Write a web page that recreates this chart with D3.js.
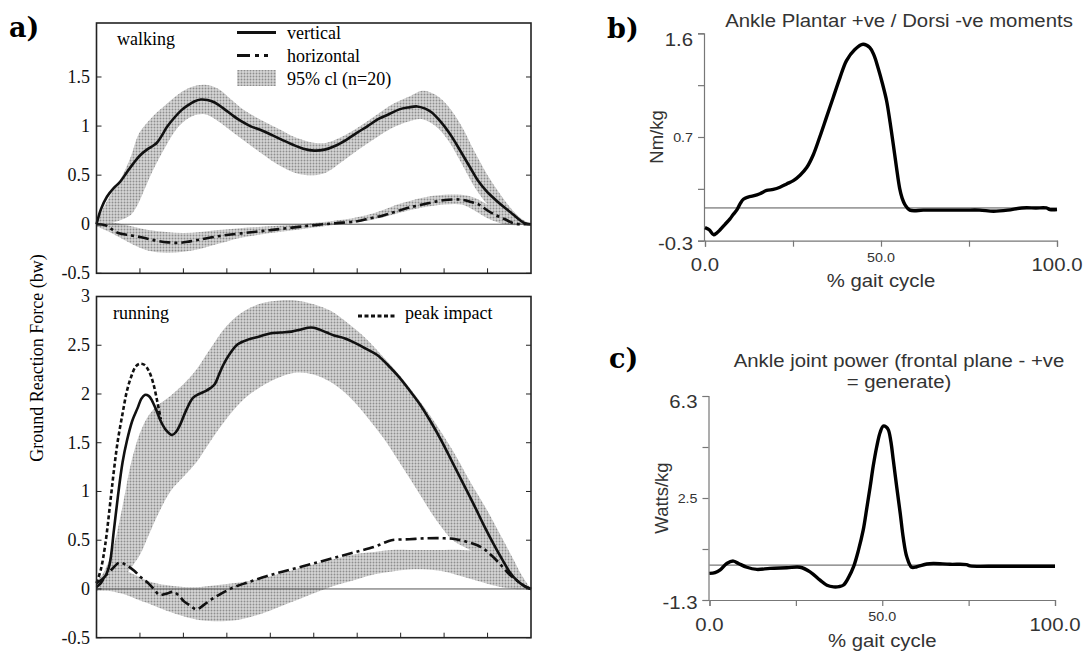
<!DOCTYPE html>
<html><head><meta charset="utf-8">
<script src="https://cdn.jsdelivr.net/npm/d3@7"></script>
<style>body{margin:0;background:#fff}</style>
</head><body>
<svg id="chart" width="1086" height="653"></svg>
<script>
// ---------------- DATA ----------------
// Panel a) walking: [% stance, force (bw)]
const walkVertical = [[0,0],[1,0.15],[2.4,0.28],[4,0.37],[5.4,0.43],[7,0.53],[8.5,0.62],[10,0.7],[11.6,0.76],[13,0.8],[13.9,0.83],[15,0.9],[16.2,0.99],[18,1.09],[19.5,1.16],[21,1.21],[22.5,1.25],[24,1.27],[25.5,1.265],[27.2,1.24],[29.2,1.18],[31.3,1.11],[33.3,1.05],[35.4,1.0],[37.8,0.96],[40.3,0.91],[42.7,0.86],[45.2,0.81],[47.6,0.77],[50.1,0.75],[52.5,0.76],[55,0.8],[57.5,0.86],[59.9,0.93],[62.4,1.0],[64.8,1.07],[67.3,1.12],[69.7,1.17],[71.8,1.19],[73.8,1.2],[75.5,1.18],[77.1,1.14],[79.1,1.05],[81.2,0.93],[82.9,0.81],[84.5,0.69],[86.1,0.57],[87.7,0.45],[89.7,0.34],[91.8,0.25],[93.9,0.17],[95.9,0.1],[97.5,0.04],[98.6,0.01],[100,0]];
const walkHorizontal = [[0,0],[2,-0.01],[3.5,-0.05],[5,-0.09],[7.5,-0.11],[10,-0.13],[12,-0.15],[14,-0.17],[16.5,-0.185],[19,-0.19],[21.5,-0.175],[24,-0.155],[27,-0.13],[30,-0.11],[35,-0.085],[40,-0.06],[45,-0.035],[50,-0.01],[55,0.01],[60,0.03],[63,0.06],[66,0.09],[69,0.13],[72,0.17],[75,0.2],[78,0.23],[81,0.25],[84,0.25],[86,0.23],[88,0.2],[90,0.14],[92,0.09],[94,0.05],[96,0.01],[98,0],[100,0]];
// 95% cl bands: [% stance, lower, upper]
const walkVerticalBand = [[0,0,0.02],[2,0,0.2],[4,0.02,0.36],[6,0.05,0.5],[8,0.1,0.7],[9.5,0.2,0.9],[11,0.35,1.0],[13,0.55,1.1],[16,0.8,1.22],[19,1.0,1.33],[22,1.1,1.4],[25,1.12,1.42],[28,1.05,1.38],[31,0.95,1.27],[34,0.85,1.16],[38,0.72,1.06],[42,0.6,0.97],[46,0.52,0.88],[50,0.5,0.83],[53,0.53,0.83],[56,0.62,0.88],[60,0.75,0.98],[64,0.87,1.1],[68,0.98,1.22],[72,1.05,1.3],[75,1.07,1.36],[78,1.0,1.32],[81,0.85,1.2],[84,0.62,1.0],[87,0.38,0.74],[90,0.2,0.5],[93,0.08,0.3],[96,0.02,0.13],[98,0,0.05],[100,0,0]];
const walkHorizontalBand = [[0,-0.02,0.02],[3,-0.08,0.02],[6,-0.15,0],[9,-0.22,-0.03],[12,-0.27,-0.06],[16,-0.29,-0.08],[20,-0.28,-0.09],[24,-0.25,-0.08],[28,-0.2,-0.06],[33,-0.14,-0.04],[40,-0.09,-0.02],[47,-0.05,0],[54,-0.01,0.03],[60,0.02,0.07],[65,0.06,0.13],[70,0.12,0.21],[75,0.17,0.27],[80,0.2,0.3],[84,0.2,0.3],[87,0.14,0.27],[90,0.06,0.2],[93,0.01,0.12],[96,-0.01,0.05],[100,0,0]];

// Panel a) running
const runVertical = [[0,0.06],[1,0.09],[2,0.13],[3,0.25],[4,0.6],[4.9,0.94],[6,1.3],[7,1.52],[8.2,1.72],[9.5,1.86],[10.3,1.95],[11.1,1.99],[12,1.98],[12.8,1.93],[13.8,1.83],[14.8,1.72],[16,1.63],[17.4,1.58],[18.3,1.61],[19.3,1.69],[20.7,1.84],[22.2,1.96],[23.6,2.0],[25.1,2.03],[26.2,2.06],[27.2,2.1],[28.2,2.2],[29.2,2.3],[30.8,2.42],[32.5,2.51],[35,2.56],[37.5,2.59],[39.9,2.62],[42.4,2.63],[44.9,2.64],[46.8,2.66],[48.6,2.68],[50,2.68],[51.4,2.66],[53,2.63],[54.7,2.6],[57.2,2.57],[59.7,2.52],[62.2,2.46],[64.6,2.4],[67,2.3],[69.5,2.18],[72,2.04],[74.5,1.89],[77,1.71],[79.4,1.52],[81.9,1.3],[84.4,1.08],[86.9,0.86],[89.3,0.64],[91.4,0.46],[93.4,0.3],[95,0.18],[96.7,0.09],[98.5,0.03],[100,0]];
const runPeakImpact = [[0,0.06],[1,0.2],[2,0.45],[3.3,0.94],[4.1,1.25],[4.9,1.52],[6,1.8],[7,2.03],[8,2.18],[9,2.28],[9.9,2.31],[11,2.3],[12,2.24],[13,2.12],[14,1.92],[14.8,1.74]];
const runHorizontal = [[0,0.02],[1,0.06],[2,0.13],[3.5,0.2],[5.3,0.27],[7,0.24],[8.6,0.19],[10.2,0.12],[11.9,0.06],[13.2,0],[14.4,-0.06],[16,-0.05],[17.7,-0.03],[19,-0.07],[20.2,-0.13],[21.6,-0.17],[23,-0.21],[24.8,-0.16],[26.7,-0.1],[29,-0.04],[31.7,0.02],[35,0.07],[39.1,0.13],[43,0.18],[47.3,0.23],[51.5,0.28],[55.6,0.33],[59.7,0.38],[63.8,0.43],[66,0.47],[67.9,0.5],[72,0.51],[76.1,0.52],[80,0.52],[82.7,0.51],[85.5,0.48],[88.5,0.43],[91,0.34],[93.4,0.23],[95,0.15],[96.7,0.09],[98.5,0.03],[100,0]];
const runVerticalBand = [[0,0,0.06],[2,0,0.2],[4,0.02,0.45],[6,0.1,0.85],[8,0.22,1.3],[10,0.35,1.6],[12,0.55,1.78],[14,0.75,1.88],[17,1.0,1.98],[20,1.15,2.1],[23,1.3,2.25],[26,1.5,2.45],[30,1.75,2.7],[34,1.95,2.85],[38,2.08,2.93],[42,2.17,2.96],[46,2.22,2.96],[50,2.2,2.92],[54,2.12,2.85],[58,1.98,2.72],[62,1.78,2.57],[66,1.55,2.38],[70,1.28,2.18],[74,1.0,1.95],[78,0.72,1.7],[82,0.5,1.42],[86,0.4,1.1],[90,0.3,0.8],[93,0.2,0.55],[96,0.08,0.3],[98,0.02,0.13],[100,0,0]];
const runHorizontalBand = [[0,-0.02,0.08],[3,-0.02,0.2],[6,-0.05,0.2],[9,-0.1,0.14],[12,-0.15,0.08],[16,-0.22,0.04],[20,-0.28,0.02],[24,-0.32,0.02],[28,-0.33,0.04],[32,-0.32,0.06],[36,-0.28,0.09],[40,-0.22,0.13],[44,-0.15,0.18],[48,-0.08,0.23],[52,-0.01,0.28],[56,0.05,0.32],[60,0.1,0.36],[64,0.15,0.38],[68,0.18,0.4],[72,0.2,0.4],[76,0.2,0.4],[80,0.18,0.4],[84,0.13,0.4],[88,0.08,0.38],[92,0.03,0.3],[96,0,0.15],[100,0,0]];

const walkTicks = [-0.5, 0, 0.5, 1, 1.5];
const walkTickLabels = ["-0.5", "0", "0.5", "1", "1.5"];
const runTicks = [-0.5, 0, 0.5, 1, 1.5, 2, 2.5, 3];
const runTickLabels = ["-0.5", "0", "0.5", "1", "1.5", "2", "2.5", "3"];
const stanceTicks = [10, 20, 30, 40, 50, 60, 70, 80, 90];
const legendLabels = ["vertical", "horizontal", "95% cl (n=20)"];

// Panel b) ankle moment: [% gait cycle, Nm/kg]
const ankleMoment = [[0,-0.18],[1.2,-0.2],[2.4,-0.245],[3.3,-0.23],[4.3,-0.2],[5.7,-0.15],[7.1,-0.1],[8,-0.06],[9,-0.02],[10,0.04],[10.9,0.08],[12.3,0.1],[13.7,0.11],[15.6,0.13],[17.5,0.16],[19.4,0.17],[21.3,0.19],[23.2,0.22],[25.1,0.25],[27,0.3],[28.9,0.37],[30.8,0.49],[32.6,0.65],[34.5,0.83],[36.4,1.01],[38.3,1.19],[40.2,1.35],[42.5,1.45],[44.9,1.5],[46.8,1.47],[48,1.4],[49.2,1.28],[50.4,1.14],[51.6,0.98],[52.6,0.78],[53.5,0.58],[54.4,0.37],[55.3,0.18],[56,0.09],[56.8,0.03],[58.2,-0.02],[62,-0.02],[66,-0.02],[70,-0.02],[74,-0.02],[78,-0.02],[82,-0.03],[86,-0.02],[90,0],[94,0],[97,0],[98,-0.015],[100,-0.015]];
const momentTicks = [-0.3, 0.175, 0.65, 1.125, 1.6];
const momentTickLabels = ["-0.3", "", "0.7", "", "1.6"];

// Panel c) ankle power: [% gait cycle, Watts/kg]
const anklePower = [[0,-0.31],[1.6,-0.28],[3.1,-0.18],[5,0.06],[6.9,0.15],[8.4,0.06],[10.8,-0.08],[13.7,-0.16],[17.5,-0.12],[22.4,-0.1],[26.2,-0.08],[29.1,-0.25],[32,-0.56],[34,-0.75],[35.9,-0.81],[37.5,-0.8],[38.8,-0.74],[40.3,-0.45],[41.7,-0.06],[43.1,0.55],[44.5,1.31],[45.5,2.1],[46.5,2.92],[47.4,3.7],[48.4,4.41],[49.4,4.95],[50.3,5.18],[51.1,5.15],[51.8,5.03],[52.5,4.6],[53.2,3.91],[54.2,2.9],[55.2,1.93],[56.1,1.0],[57.1,0.31],[58.5,-0.08],[60,-0.06],[62.9,0.04],[64.8,0.06],[69.6,0.03],[74.4,0.02],[75.4,-0.03],[84.1,-0.04],[100,-0.04]];
const powerTicks = [-1.3, 0.6, 2.5, 4.4, 6.3];
const powerTickLabels = ["-1.3", "", "2.5", "", "6.3"];

const gaitTicks = [0, 25, 50, 75, 100];
const gaitTickLabels = ["0.0", "", "50.0", "", "100.0"];

// ---------------- DRAWING ----------------
const svg = d3.select("#chart");
const serif = "'Liberation Serif','Times New Roman',serif";
const sans = "'Liberation Sans',Arial,sans-serif";
const defs = svg.append("defs");
const pat = defs.append("pattern").attr("id", "stip").attr("width", 3).attr("height", 3)
  .attr("patternUnits", "userSpaceOnUse");
pat.append("rect").attr("width", 3).attr("height", 3).attr("fill", "#d6d6d6");
pat.append("circle").attr("cx", 1.5).attr("cy", 1.5).attr("r", 0.95).attr("fill", "#8e8e8e");

const xA = d3.scaleLinear().domain([0, 100]).range([96.5, 531]);

function grfPanel(id, yDom, yRange, ticks, tickLabels, bands, lines) {
  const y = d3.scaleLinear().domain(yDom).range(yRange);
  const g = svg.append("g");
  defs.append("clipPath").attr("id", "clip" + id).append("rect")
    .attr("x", xA(0)).attr("y", yRange[1]).attr("width", xA(100) - xA(0)).attr("height", yRange[0] - yRange[1]);
  const area = d3.area().x(d => xA(d[0])).y0(d => y(d[1])).y1(d => y(d[2])).curve(d3.curveCatmullRom.alpha(0.5));
  const bandG = g.append("g").attr("clip-path", `url(#clip${id})`);
  bands.forEach(b => bandG.append("path").attr("d", area(b)).attr("fill", "url(#stip)").attr("stroke", "none"));
  // zero line
  g.append("line").attr("x1", xA(0)).attr("x2", xA(100)).attr("y1", y(0)).attr("y2", y(0))
    .attr("stroke", "#555").attr("stroke-width", 1);
  const line = d3.line().x(d => xA(d[0])).y(d => y(d[1])).curve(d3.curveCatmullRom.alpha(0.5));
  lines.forEach(l => g.append("path").attr("d", line(l.data)).attr("fill", "none")
    .attr("stroke", "#111").attr("stroke-width", l.w || 2.6).attr("stroke-dasharray", l.dash || null)
    .attr("stroke-linejoin", "round"));
  // frame
  g.append("rect").attr("x", xA(0)).attr("y", yRange[1]).attr("width", xA(100) - xA(0))
    .attr("height", yRange[0] - yRange[1]).attr("fill", "none").attr("stroke", "#222").attr("stroke-width", 1.6);
  // ticks
  ticks.forEach((t, i) => {
    g.append("line").attr("x1", xA(0)).attr("x2", xA(0) + 5).attr("y1", y(t)).attr("y2", y(t)).attr("stroke", "#222");
    g.append("line").attr("x1", xA(100)).attr("x2", xA(100) - 5).attr("y1", y(t)).attr("y2", y(t)).attr("stroke", "#222");
    g.append("text").attr("x", 90).attr("y", y(t)).attr("dy", "0.33em").attr("text-anchor", "end")
      .attr("font-family", serif).attr("font-size", 18).attr("fill", "#111").text(tickLabels[i]);
  });
  stanceTicks.forEach(t => g.append("line").attr("x1", xA(t)).attr("x2", xA(t))
    .attr("y1", yRange[0]).attr("y2", yRange[0] - 5).attr("stroke", "#222"));
  return {g, y};
}

const walk = grfPanel("w", [-0.5, 2.05], [273.3, 23], walkTicks, walkTickLabels,
  [walkVerticalBand, walkHorizontalBand],
  [{data: walkHorizontal, dash: "11,4,3,4"}, {data: walkVertical}]);
const run = grfPanel("r", [-0.5, 3.0], [637.7, 296.5], runTicks, runTickLabels,
  [runVerticalBand, runHorizontalBand],
  [{data: runHorizontal, dash: "11,4,3,4"}, {data: runPeakImpact, dash: "4,2.5"}, {data: runVertical}]);

// panel a texts
svg.append("text").attr("x", 117).attr("y", 45).attr("font-family", serif).attr("font-size", 18).text("walking");
svg.append("text").attr("x", 113).attr("y", 319).attr("font-family", serif).attr("font-size", 18).text("running");
// legend
const lg = svg.append("g");
lg.append("line").attr("x1", 237).attr("x2", 276).attr("y1", 32.5).attr("y2", 32.5).attr("stroke", "#111").attr("stroke-width", 3);
lg.append("line").attr("x1", 237).attr("x2", 276).attr("y1", 55.5).attr("y2", 55.5).attr("stroke", "#111").attr("stroke-width", 3).attr("stroke-dasharray", "13,5,4,5,4");
lg.append("rect").attr("x", 237).attr("y", 70).attr("width", 39).attr("height", 16).attr("fill", "url(#stip)");
legendLabels.forEach((t, i) => lg.append("text").attr("x", 287).attr("y", 38.5 + i * 23.3)
  .attr("font-family", serif).attr("font-size", 18).text(t));
svg.append("line").attr("x1", 358).attr("x2", 395).attr("y1", 316).attr("y2", 316).attr("stroke", "#111")
  .attr("stroke-width", 3).attr("stroke-dasharray", "4,2.5");
svg.append("text").attr("x", 405).attr("y", 319).attr("font-family", serif).attr("font-size", 18).text("peak impact");
svg.append("text").attr("transform", "translate(43,358) rotate(-90)").attr("text-anchor", "middle")
  .attr("font-family", serif).attr("font-size", 18).text("Ground Reaction Force (bw)");

// panel letters
const letterFont = "'DejaVu Serif','Liberation Serif',serif";
[["a)", 9, 37], ["b)", 607, 38], ["c)", 609, 368]].forEach(([t, x, y]) =>
  svg.append("text").attr("x", x).attr("y", y).attr("font-family", letterFont).attr("font-weight", "bold")
    .attr("font-size", 27).attr("fill", "#000").text(t));

// ---------------- panels b, c ----------------
function sText(x, y, t, size, anchor) {
  return svg.append("text").attr("transform", `translate(${x},${y}) scale(1.1,1)`).attr("text-anchor", anchor || "middle")
    .attr("font-family", sans).attr("font-size", size).attr("fill", "#333").text(t);
}
function gaitPanel(opts) {
  const x = d3.scaleLinear().domain([0, 100]).range(opts.xr);
  const y = d3.scaleLinear().domain(opts.yDom).range(opts.yr);
  const g = svg.append("g");
  g.append("g").attr("transform", `translate(${opts.xr[0] - 1},0)`)
    .call(d3.axisLeft(y).tickValues(opts.yTicks).tickSize(6).tickFormat(""))
    .call(a => a.selectAll("path,line").attr("stroke", "#777").attr("stroke-width", 1.2));
  g.append("g").attr("transform", `translate(0,${opts.yr[0]})`)
    .call(d3.axisBottom(x).tickValues(gaitTicks).tickSize(6).tickFormat(""))
    .call(a => a.selectAll("path,line").attr("stroke", "#777").attr("stroke-width", 1.2));
  g.selectAll(".domain").attr("d", function() { return d3.select(this).attr("d").replace(/M[^V H]*V?[\d.-]*/, m => m); });
  // zero line
  g.append("line").attr("x1", x(0)).attr("x2", x(100)).attr("y1", y(0)).attr("y2", y(0)).attr("stroke", "#555").attr("stroke-width", 1);
  g.append("path").attr("d", d3.line().x(d => x(d[0])).y(d => y(d[1])).curve(d3.curveCatmullRom.alpha(0.5))(opts.data))
    .attr("fill", "none").attr("stroke", "#000").attr("stroke-width", 3.4).attr("stroke-linejoin", "round");
  // y labels
  const n = opts.yTicks.length;
  opts.yTicks.forEach((t, i) => {
    const lab = opts.yLabels[i];
    if (!lab) return;
    const big = (i === 0 || i === n - 1);
    const off = i === n - 1 ? 6 : (i === 0 ? 3 : 0);
    sText(opts.xr[0] - 12, y(t) + off, lab, big ? 18.5 : 13, "end").attr("dy", "0.35em");
  });
  gaitTicks.forEach((t, i) => {
    const lab = gaitTickLabels[i];
    if (!lab) return;
    const big = (i === 0 || i === gaitTicks.length - 1);
    sText(x(t), opts.yr[0] + (big ? 30.5 : 21), lab, big ? 18.5 : 13);
  });
  sText(x(50), opts.yr[0] + 46.5, "% gait cycle", 18.5);
  svg.append("text").attr("transform", `translate(${opts.xr[0] - 42},${(opts.yr[0] + opts.yr[1]) / 2}) rotate(-90)`)
    .attr("text-anchor", "middle").attr("font-family", sans).attr("font-size", 18.5).attr("fill", "#333").text(opts.yTitle);
  opts.title.forEach((t, i) => sText(899, opts.titleY + i * 21, t, 18.5));
}

gaitPanel({xr: [705, 1057], yr: [240.7, 33.3], yDom: [-0.3, 1.6], yTicks: momentTicks, yLabels: momentTickLabels,
  data: ankleMoment, yTitle: "Nm/kg", title: ["Ankle Plantar +ve / Dorsi -ve moments"], titleY: 27});
gaitPanel({xr: [709.5, 1055], yr: [600, 396], yDom: [-1.3, 6.3], yTicks: powerTicks, yLabels: powerTickLabels,
  data: anklePower, yTitle: "Watts/kg", title: ["Ankle joint power (frontal plane - +ve", "= generate)"], titleY: 367});
</script>
</body></html>
